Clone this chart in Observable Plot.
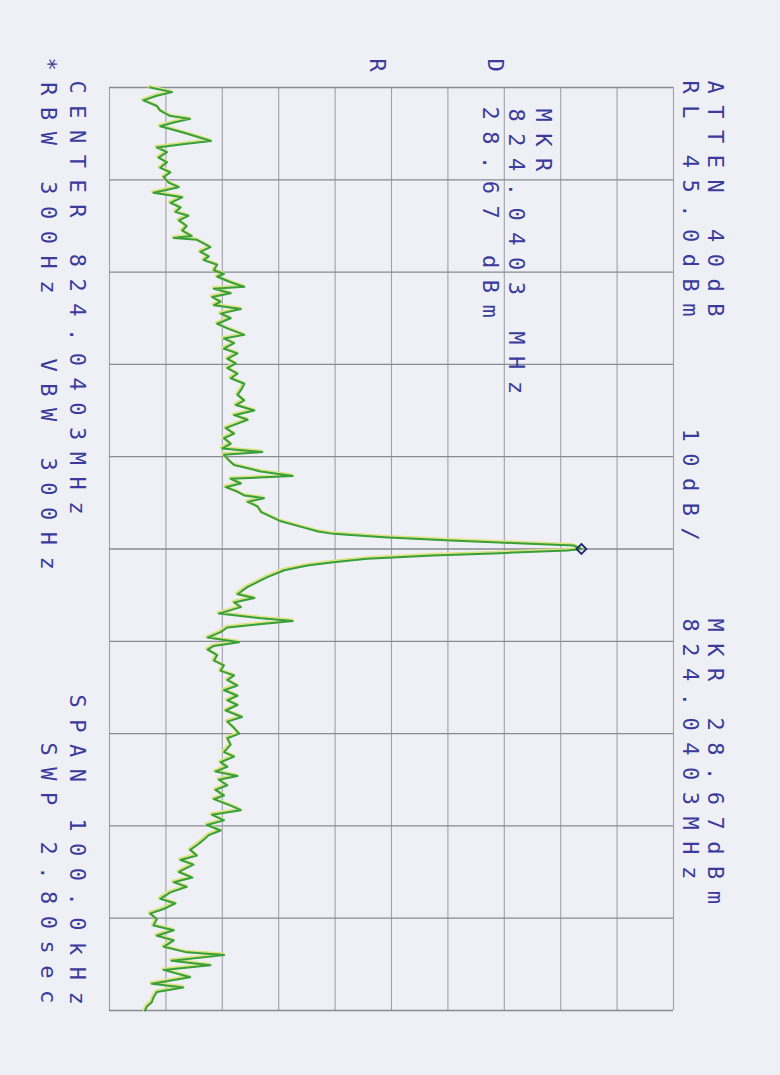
<!DOCTYPE html>
<html>
<head>
<meta charset="utf-8">
<script src="https://cdn.jsdelivr.net/npm/d3@7"></script>
<script src="https://cdn.jsdelivr.net/npm/@observablehq/plot@0.6"></script>
<style>
  html, body { margin: 0; padding: 0; background: #eff0f5; }
  #chart svg text { letter-spacing: 11.5px; }
</style>
</head>
<body>
<div id="chart"></div>
<script>
// offset from center 824.0403 MHz, kHz (span 100 kHz)
const freqKHz = [
  -50.0,-49.5,-49.1,-48.6,-48.0,-47.5,-46.9,-46.6,-46.2,-45.8,
  -45.1,-44.2,-43.9,-43.5,-43.0,-42.4,-41.9,-41.3,-40.8,-40.3,
  -39.7,-39.2,-38.6,-38.1,-37.5,-37.0,-36.5,-36.1,-35.6,-35.0,
  -34.5,-33.9,-33.7,-33.5,-33.3,-32.7,-32.2,-31.7,-31.3,-30.8,
  -30.2,-29.8,-29.5,-28.9,-28.4,-28.2,-27.7,-27.3,-26.8,-26.4,
  -26.0,-25.5,-25.0,-24.4,-23.9,-23.2,-22.8,-22.3,-21.7,-21.2,
  -20.6,-20.1,-19.6,-19.0,-18.5,-17.9,-17.4,-16.7,-16.1,-15.6,
  -15.0,-14.5,-14.0,-13.1,-12.5,-12.0,-11.4,-10.9,-10.5,-10.2,
  -9.6,-9.1,-8.4,-7.9,-7.6,-7.1,-6.7,-6.2,-5.8,-5.5,
  -5.1,-4.6,-4.0,-3.5,-3.0,-2.4,-1.9,-1.64,-1.28,-0.92,
  -0.63,-0.38,0,0.16,0.45,0.70,1.06,1.43,1.79,2.3,
  3.05,3.6,4.1,4.9,5.3,5.8,6.3,7.0,7.5,7.8,
  8.2,8.5,9.0,9.6,10.1,10.5,10.9,11.5,12.1,12.6,
  13.2,13.7,14.2,14.8,15.3,15.9,16.4,16.9,17.5,18.2,
  18.7,19.4,20.0,20.5,21.2,22.0,22.5,23.1,23.6,24.1,
  24.6,25.0,25.6,26.1,26.7,27.1,27.8,28.3,28.8,29.4,
  29.9,30.5,31.0,31.5,32.1,32.6,33.2,33.7,34.2,34.8,
  35.0,35.6,36.1,36.6,37.2,37.9,38.4,39.0,39.5,40.1,
  40.8,41.3,41.9,42.4,43.1,43.7,44.0,44.6,45.1,45.6,
  46.4,47.1,47.5,48.0,48.6,49.1,49.6,50.0
];
// trace level, dBm
const levelDbm = [
  -47.8,-43.9,-46.6,-49.0,-46.6,-46.0,-44.2,-40.7,-43.6,-46.0,
  -41.8,-37.0,-41.3,-46.6,-44.8,-46.3,-44.8,-46.0,-44.2,-45.4,
  -44.5,-42.7,-47.2,-42.1,-44.2,-42.4,-43.3,-41.0,-42.7,-41.3,
  -42.1,-40.4,-43.6,-39.5,-38.9,-37.1,-38.9,-37.4,-38.3,-35.9,
  -36.5,-34.7,-35.9,-33.5,-31.1,-36.5,-33.5,-36.8,-35.3,-36.5,
  -31.7,-35.3,-33.5,-35.9,-34.1,-31.1,-34.7,-32.9,-34.7,-32.3,
  -34.1,-32.6,-34.1,-32.3,-33.5,-31.1,-31.5,-32.3,-31.1,-32.6,
  -29.3,-32.9,-30.5,-34.4,-32.9,-34.7,-33.5,-35.0,-27.9,-34.7,
  -33.8,-32.9,-28.2,-22.5,-33.5,-31.7,-34.4,-32.3,-31.1,-27.6,
  -30.5,-28.7,-28.1,-26.4,-24.6,-21.0,-18.0,-15.3,-6.4,5.5,
  17.3,27.3,28.67,26.2,14.3,2.4,-9.3,-15.3,-19.9,-24.0,
  -27.0,-28.8,-30.5,-32.3,-29.3,-32.9,-31.7,-35.6,-28.2,-22.5,
  -29.3,-34.1,-35.3,-37.6,-32.0,-36.5,-37.6,-35.9,-36.5,-34.7,
  -35.3,-32.9,-34.1,-32.3,-34.7,-32.3,-34.1,-32.3,-34.4,-31.5,
  -34.1,-32.9,-32.0,-34.1,-33.5,-34.7,-32.9,-35.3,-34.1,-36.2,
  -32.3,-35.6,-34.1,-36.2,-34.7,-36.5,-33.5,-31.7,-36.8,-34.7,
  -37.7,-35.3,-37.4,-38.3,-39.5,-40.7,-39.5,-42.4,-40.1,-42.1,
  -42.7,-40.3,-43.6,-41.3,-44.2,-46.0,-43.3,-45.4,-47.8,-46.6,
  -47.2,-43.6,-46.6,-43.6,-45.4,-41.3,-34.7,-44.0,-37.1,-45.4,
  -40.7,-47.5,-41.9,-46.6,-47.2,-47.5,-48.4,-48.7
];
const gridKHz = [-50,-40,-30,-20,-10,0,10,20,30,40,50];
const gridDbm = [-55,-45,-35,-25,-15,-5,5,15,25,35,45];
const markerKHz = 0;
const markerDbm = 28.67;

const trace = freqKHz.map((f, i) => ({khz: f, dbm: levelDbm[i]}));

const ink = '#3b3b9e';
// plotter text runs down the page, tops facing right
const label = (s, dx, dy) => Plot.text([s], {
  text: d => d,
  frameAnchor: 'top-left',
  dx: dx + 8, dy,
  rotate: 90,
  textAnchor: 'start',
  fill: ink,
  fontSize: 22
});

let chart = Plot.plot({
  width: 780,
  height: 1075,
  marginLeft: 109,
  marginRight: 107,
  marginTop: 87,
  marginBottom: 65,
  x: { domain: [-55, 45], axis: null },
  y: { domain: [-50, 50], reverse: true, axis: null },
  style: { background: 'transparent', fontFamily: '"DejaVu Sans Mono", monospace' },
  marks: [
    Plot.ruleX(gridDbm, { stroke: '#a0a0aa', strokeWidth: 1.1 }),
    Plot.ruleY(gridKHz, { stroke: '#8a8a94', strokeWidth: 1.3 }),
    Plot.line(trace, { x: 'dbm', y: 'khz', stroke: '#dde27c', strokeWidth: 3, dx: -1, dy: -1 }),
    Plot.line(trace, { x: 'dbm', y: 'khz', stroke: '#36a03e', strokeWidth: 2 }),
    Plot.dot([{khz: markerKHz, dbm: markerDbm}], {
      x: 'dbm', y: 'khz', symbol: 'diamond2', r: 4.5, stroke: '#262670', strokeWidth: 1.8
    }),
    label('ATTEN 40dB', 606, -7),
    label('RL 45.0dBm', 581, -7),
    label('10dB/', 581, 341),
    label('MKR 28.67dBm', 606, 531),
    label('824.0403MHz', 581, 531),
    label('MKR', 434, 21),
    label('824.0403 MHz', 407, 21),
    label('28.67 dBm', 381, 19),
    label('D', 386, -29),
    label('R', 268, -29),
    label('CENTER 824.0403MHz', -32, -7),
    label('*RBW 300Hz', -61, -30),
    label('VBW 300Hz', -61, 271),
    label('SPAN 100.0kHz', -32, 607),
    label('SWP 2.80sec', -61, 655)
  ]
});
d3.select('#chart').append(() => chart);
</script>
</body>
</html>
